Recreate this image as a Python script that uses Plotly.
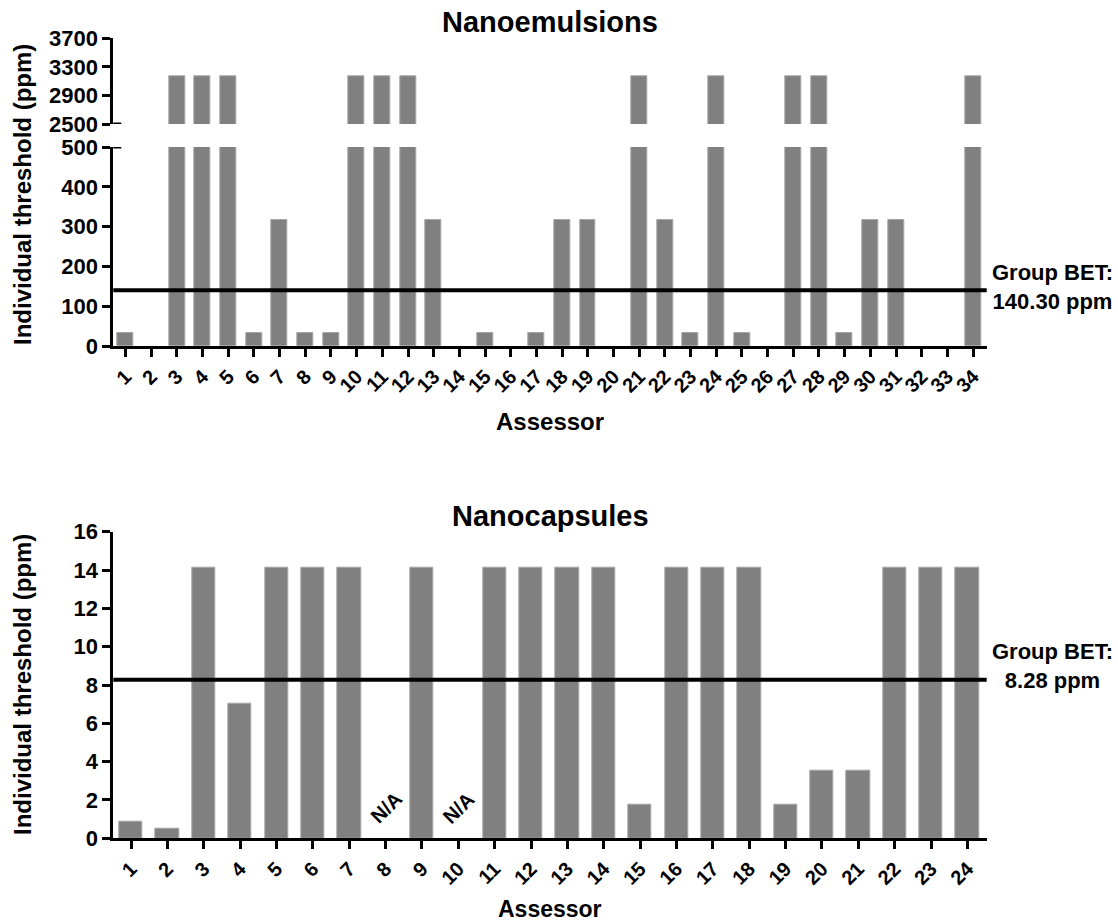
import plotly.graph_objects as go

# ---- data ----
emul_assessors = list(range(1, 35))
emul_values = [31.6, 0, 3162, 3162, 3162, 31.6, 316, 31.6, 31.6, 3162,
               3162, 3162, 316, 0, 31.6, 0, 31.6, 316, 316, 0,
               3162, 316, 31.6, 3162, 31.6, 0, 3162, 3162, 31.6, 316,
               316, 0, 0, 3162]
emul_bet = 140.30

caps_assessors = list(range(1, 25))
caps_values = [0.87, 0.5, 14.1, 7.05, 14.1, 14.1, 14.1, None, 14.1, None,
               14.1, 14.1, 14.1, 14.1, 1.76, 14.1, 14.1, 14.1, 1.76, 3.53,
               3.53, 14.1, 14.1, 14.1]
caps_na = [8, 10]
caps_bet = 8.28

emul_low_ticks = [0, 100, 200, 300, 400, 500]
emul_high_ticks = [2500, 2900, 3300, 3700]
caps_ticks = [0, 2, 4, 6, 8, 10, 12, 14, 16]

# ---- styling ----
W, H = 1118, 924
FONT = "Liberation Sans, Arial, Helvetica, sans-serif"
BAR = "#808080"
BAR_EDGE = "#a6a6a6"

def px_x(p):
    return p / W

def px_y(p):
    return 1 - p / H

x_dom = [px_x(113.3), px_x(986.7)]

def edge_widths(vals):
    # no outline drawn for empty (zero / missing) bars
    return [1 if v else 0 for v in vals]

fig = go.Figure()

def bar_style(vals):
    return dict(marker=dict(color=BAR,
                            line=dict(color=BAR_EDGE, width=edge_widths(vals))),
                showlegend=False, hoverinfo="x+y")

fig.add_trace(go.Bar(x=emul_assessors, y=emul_values, width=0.62,
                     xaxis="x", yaxis="y", **bar_style(emul_values)))
fig.add_trace(go.Bar(x=emul_assessors, y=emul_values, width=0.62,
                     xaxis="x", yaxis="y2", **bar_style(emul_values)))
fig.add_trace(go.Bar(x=caps_assessors, y=caps_values, width=0.64,
                     xaxis="x3", yaxis="y3", **bar_style(caps_values)))

axis_common = dict(showline=True, linewidth=3, linecolor="black",
                   ticks="outside", ticklen=8, tickwidth=3, tickcolor="black",
                   showgrid=False, zeroline=False, mirror=False,
                   automargin=False)

tick_font_y = dict(family=FONT, size=22, color="black", weight="bold")
tick_font_x = dict(family=FONT, size=20, color="black", weight="bold")

fig.update_layout(
    width=W, height=H,
    margin=dict(l=0, r=0, t=0, b=0, pad=0, autoexpand=False),
    plot_bgcolor="white", paper_bgcolor="white",
    bargap=0,
    xaxis=dict(domain=x_dom, anchor="y", range=[0.525, 34.53],
               tickmode="array", tickvals=emul_assessors,
               ticktext=[str(a) for a in emul_assessors],
               tickangle=-45, tickfont=tick_font_x, **axis_common),
    yaxis=dict(domain=[px_y(346), px_y(147)], anchor="x", range=[0, 500],
               tickmode="array", tickvals=emul_low_ticks,
               tickfont=tick_font_y, **axis_common),
    yaxis2=dict(domain=[px_y(124), px_y(38.3)], anchor="x", range=[2500, 3700],
                tickmode="array", tickvals=emul_high_ticks,
                tickfont=tick_font_y, **axis_common),
    xaxis3=dict(domain=x_dom, anchor="y3", range=[0.513, 24.53],
                tickmode="array", tickvals=caps_assessors,
                ticktext=[str(a) for a in caps_assessors],
                tickangle=-45, tickfont=tick_font_x, **axis_common),
    yaxis3=dict(domain=[px_y(838.3), px_y(531.7)], anchor="x3", range=[0, 16],
                tickmode="array", tickvals=caps_ticks,
                tickfont=tick_font_y, **axis_common),
)

# Group BET lines
fig.add_shape(type="line", xref="x domain", yref="y", x0=0, x1=1,
              y0=emul_bet, y1=emul_bet, line=dict(color="black", width=4))
fig.add_shape(type="line", xref="x3 domain", yref="y3", x0=0, x1=1,
              y0=caps_bet, y1=caps_bet, line=dict(color="black", width=4))

# axis break stubs
for yref, yv in (("y2", emul_high_ticks[0]), ("y", emul_low_ticks[-1])):
    fig.add_shape(type="line", xref="paper", yref=yref,
                  x0=x_dom[0], x1=x_dom[0] + 8 / W, y0=yv, y1=yv,
                  line=dict(color="black", width=3))

bold = dict(family=FONT, color="black", weight="bold")
ctr = dict(xanchor="center", yanchor="middle", showarrow=False)

# titles
fig.add_annotation(text="Nanoemulsions", xref="paper", yref="paper",
                   x=px_x(550), y=px_y(22), font=dict(size=29, **bold), **ctr)
fig.add_annotation(text="Nanocapsules", xref="paper", yref="paper",
                   x=px_x(550), y=px_y(516), font=dict(size=29, **bold), **ctr)

# axis titles
for yc in (195, 685):
    fig.add_annotation(text="Individual threshold (ppm)", xref="paper",
                       yref="paper", x=px_x(22), y=px_y(yc), textangle=-90,
                       font=dict(size=24, **bold), **ctr)
for yc, fs in ((421, 24), (909, 23)):
    fig.add_annotation(text="Assessor", xref="paper", yref="paper",
                       x=px_x(550), y=px_y(yc), font=dict(size=fs, **bold),
                       **ctr)

# Group BET labels
fig.add_annotation(text="Group BET:<br>%.2f ppm" % emul_bet, xref="paper",
                   yref="paper", x=px_x(1052), y=px_y(287), align="center",
                   font=dict(size=22, **bold), **ctr)
fig.add_annotation(text="Group BET:<br>%.2f ppm" % caps_bet, xref="paper",
                   yref="paper", x=px_x(1052), y=px_y(666), align="center",
                   font=dict(size=22, **bold), **ctr)

# N/A labels
for a in caps_na:
    fig.add_annotation(text="N/A", xref="x3", yref="y3", x=a, y=1.6,
                       textangle=-45, font=dict(size=20, **bold), **ctr)

fig.write_html("out.html", config={"displayModeBar": False},
               post_script="document.body.style.margin='0';")
